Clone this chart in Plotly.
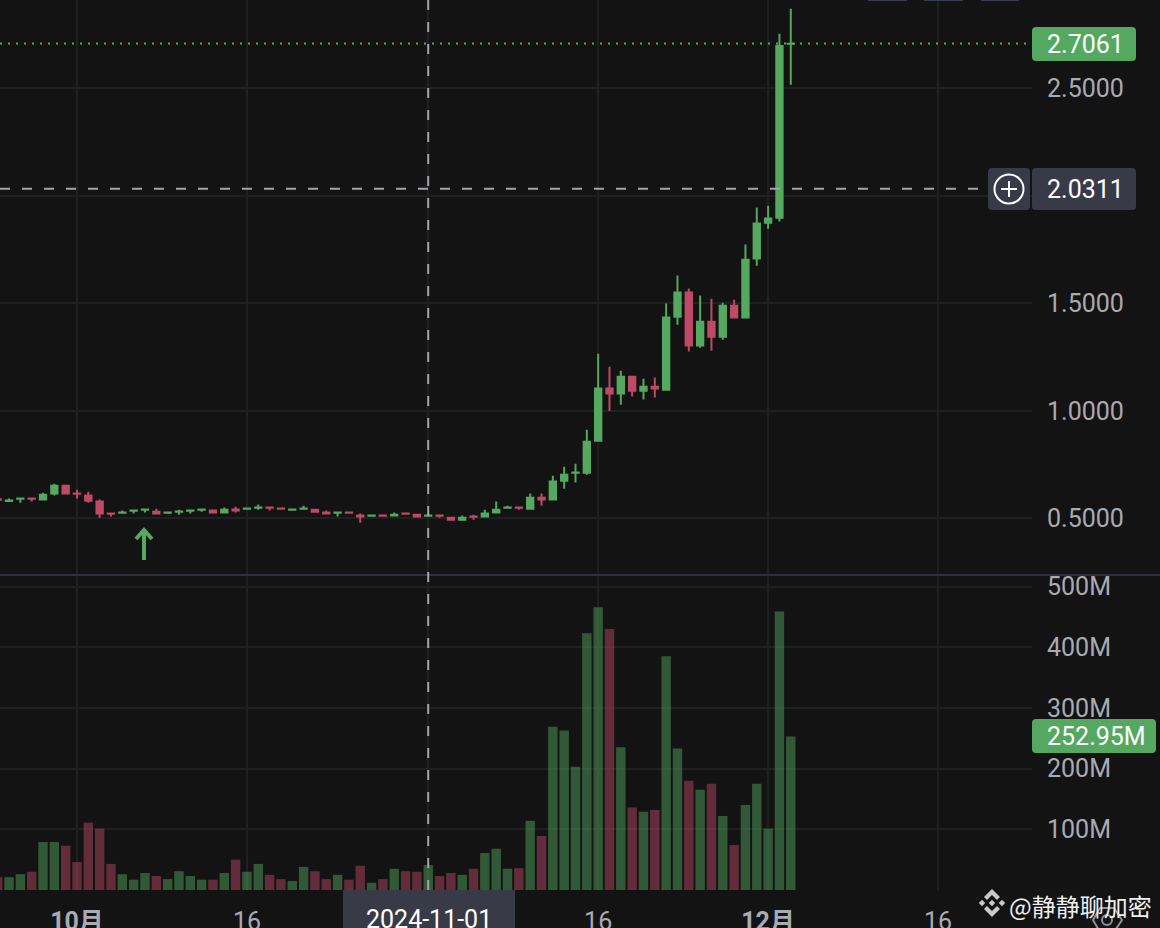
import pandas as pd
import plotly.graph_objects as go
from plotly.subplots import make_subplots

dates = pd.date_range("2024-09-24", "2024-12-03", freq="D")

opens = [.589,.581,.591,.592,.587,.615,.652,.616,.606,.578,.523,.526,.535,.540,.531,.526,.531,.535,.540,.536,
         .527,.541,.545,.549,.550,.546,.540,.545,.540,.527,.526,.527,.513,.512,.513,.513,.522,.517,.512,.513,
         .503,.494,.508,.508,.527,.549,.550,.545,.596,.587,.675,.712,.712,.861,1.103,1.080,1.158,1.093,1.112,1.098,
         1.437,1.549,1.303,1.414,1.344,1.488,1.433,1.707,1.874,1.897,2.705]
highs = [.590,.592,.596,.596,.619,.661,.653,.633,.624,.587,.524,.536,.537,.541,.545,.527,.540,.536,.541,.536,
         .550,.554,.546,.564,.550,.546,.541,.559,.540,.536,.527,.527,.522,.513,.513,.527,.522,.517,.517,.513,
         .503,.513,.517,.540,.578,.559,.550,.615,.615,.698,.740,.754,.912,1.265,1.205,1.186,1.158,1.149,1.154,1.498,
         1.628,1.568,1.535,1.521,1.502,1.516,1.772,1.944,1.953,2.752,2.868]
lows = [.584,.578,.573,.578,.585,.606,.614,.592,.573,.503,.508,.526,.522,.527,.522,.526,.517,.522,.531,.527,
        .527,.527,.545,.540,.536,.545,.540,.545,.531,.522,.508,.526,.480,.512,.512,.513,.521,.508,.508,.503,
        .494,.494,.494,.508,.527,.549,.540,.545,.559,.587,.638,.666,.703,.861,.999,1.028,1.066,1.052,1.061,1.098,
        1.400,1.275,1.293,1.279,1.330,1.433,1.433,1.674,1.846,1.879,2.515]
closes = [.586,.583,.592,.591,.610,.652,.615,.614,.582,.522,.521,.527,.536,.541,.522,.527,.532,.536,.541,.527,
          .540,.536,.546,.550,.549,.545,.541,.546,.531,.522,.527,.526,.508,.513,.512,.517,.521,.508,.513,.512,
          .494,.503,.507,.522,.540,.550,.549,.596,.587,.671,.703,.713,.856,1.103,1.080,1.158,1.093,1.112,1.103,1.433,
          1.549,1.303,1.414,1.344,1.488,1.433,1.702,1.870,1.893,2.695,2.706]
volumes = [21,21,26,30,79,79,73,46,111,101,43,26,17,28,23,18,31,23,17,17,
           28,50,30,43,25,18,15,38,31,18,25,17,40,12,18,35,31,30,41,23,
           28,25,35,61,68,35,36,114,89,269,263,203,423,466,430,235,136,129,132,385,
           233,180,165,175,122,74,140,175,101,459,252.95]

price_ticks = [0.5, 1.0, 1.5, 2.0, 2.5]
price_labels = ["0.5000", "1.0000", "1.5000", "", "2.5000"]
vol_ticks = [100e6, 200e6, 300e6, 400e6, 500e6]
vol_labels = ["100M", "200M", "300M", "400M", "500M"]
date_ticks = ["2024-10-01", "2024-10-16", "2024-11-01", "2024-11-16", "2024-12-01", "2024-12-16"]
date_labels = ["<b>10月</b>", "16", "", "16", "<b>12月</b>", "16"]

last_price = 2.7061
cross_price = 2.0311
cross_date = "2024-11-01"

BG = "#131313"
GRID = "#1f2020"
UP = "#55a860"
DOWN = "#bd4a66"
BADGE = "#383b47"
TICK = "#a9abb3"
FONT = "Roboto, Noto Sans CJK SC, sans-serif"
W, H, PLOT_W = 1160, 928, 1032


def px(x):
    return x / PLOT_W


def py(y):
    return 1 - y / H


def path(points):
    return "M" + " L".join(f"{px(a):.5f},{py(b):.5f}" for a, b in points) + " Z"


def round_box(x0, y0, x1, y1, fill, r=4):
    # rounded box in page pixels, paper coordinates
    p = (f"M{px(x0 + r)},{py(y0)} L{px(x1 - r)},{py(y0)} Q{px(x1)},{py(y0)} {px(x1)},{py(y0 + r)} "
         f"L{px(x1)},{py(y1 - r)} Q{px(x1)},{py(y1)} {px(x1 - r)},{py(y1)} L{px(x0 + r)},{py(y1)} "
         f"Q{px(x0)},{py(y1)} {px(x0)},{py(y1 - r)} L{px(x0)},{py(y0 + r)} Q{px(x0)},{py(y0)} {px(x0 + r)},{py(y0)} Z")
    return dict(type="path", xref="paper", yref="paper", path=p, fillcolor=fill, line_width=0)


def label(x, y, text, color="#ffffff", size=25, font=FONT, anchor="left"):
    return dict(xref="paper", yref="paper", x=px(x), y=py(y), text=text, showarrow=False,
                xanchor=anchor, yanchor="middle", borderpad=0, font=dict(color=color, size=size, family=font))


fig = make_subplots(rows=2, cols=1, shared_xaxes=True, vertical_spacing=0)

fig.add_trace(go.Candlestick(
    x=dates, open=opens, high=highs, low=lows, close=closes, whiskerwidth=0,
    increasing=dict(line=dict(color=UP, width=2), fillcolor=UP),
    decreasing=dict(line=dict(color=DOWN, width=2), fillcolor=DOWN),
), row=1, col=1)

fig.add_trace(go.Bar(
    x=dates, y=[v * 1e6 for v in volumes],
    marker=dict(color=[UP if c >= o else DOWN for o, c in zip(opens, closes)], opacity=0.48, line_width=0),
), row=2, col=1)

shapes = [
    # pane separator
    dict(type="line", xref="paper", yref="paper", x0=0, x1=W / PLOT_W, y0=py(575), y1=py(575),
         line=dict(color="#2e313b", width=2)),
    # last price line
    dict(type="line", xref="paper", yref="y", x0=0, x1=1, y0=last_price, y1=last_price,
         line=dict(color=UP, width=2, dash="2px,6px")),
    # crosshair
    dict(type="line", xref="paper", yref="y", x0=0, x1=px(988), y0=cross_price, y1=cross_price,
         line=dict(color="#a3a5ad", width=2, dash="10px,12px")),
    dict(type="line", xref="x2", yref="paper", x0=cross_date, x1=cross_date, y0=py(890), y1=1,
         line=dict(color="#a3a5ad", width=2, dash="10px,12px")),
    # date and value badges
    dict(type="rect", xref="paper", yref="paper", x0=px(343), x1=px(515), y0=0, y1=py(890),
         fillcolor=BADGE, line_width=0),
    round_box(1032, 27, 1136, 61, UP),
    round_box(1032, 719, 1156, 753, UP),
    round_box(988, 168, 1030, 210, BADGE),
    round_box(1032, 168, 1136, 210, BADGE),
    # plus icon
    dict(type="circle", xref="paper", yref="paper", x0=px(994.5), x1=px(1023.5), y0=py(174.5), y1=py(203.5),
         line=dict(color="#ffffff", width=2)),
    dict(type="line", xref="paper", yref="paper", x0=px(1001), x1=px(1017), y0=py(189), y1=py(189),
         line=dict(color="#ffffff", width=2)),
    dict(type="line", xref="paper", yref="paper", x0=px(1009), x1=px(1009), y0=py(181), y1=py(197),
         line=dict(color="#ffffff", width=2)),
    # signal arrow
    dict(type="path", xref="paper", yref="paper", line=dict(color=UP, width=4),
         path=f"M{px(144)},{py(560)} L{px(144)},{py(531)} M{px(136)},{py(539)} L{px(144)},{py(530)} L{px(152)},{py(539)}"),
    # gear icon, mostly under the watermark
    dict(type="path", xref="paper", yref="paper", line=dict(color="#8d9098", width=2),
         path=path([(1100, 908), (1114, 908), (1122, 920), (1114, 932), (1100, 932), (1093, 920)])),
    dict(type="circle", xref="paper", yref="paper", x0=px(1102), x1=px(1112), y0=py(915), y1=py(925),
         line=dict(color="#8d9098", width=2)),
]

# toolbar stubs cut off at the top edge
for x0, x1 in [(868, 907), (924, 963), (981, 1019)]:
    shapes.append(dict(type="rect", xref="paper", yref="paper", x0=px(x0), x1=px(x1), y0=py(1), y1=1,
                       fillcolor="#3a3d4d", line_width=0))

# watermark logo
LOGO_X, LOGO_Y = 992, 903
for cx, cy in [(0, 0), (-10, 0), (10, 0)]:
    shapes.append(dict(type="path", xref="paper", yref="paper", fillcolor="#c9c9c9", line_width=0,
                       path=path([(LOGO_X + cx, LOGO_Y + cy - 3.2), (LOGO_X + cx + 3.2, LOGO_Y + cy),
                                  (LOGO_X + cx, LOGO_Y + cy + 3.2), (LOGO_X + cx - 3.2, LOGO_Y + cy)])))
for s in (1, -1):
    shapes.append(dict(type="path", xref="paper", yref="paper", fillcolor="#c9c9c9", line_width=0,
                       path=path([(LOGO_X, LOGO_Y - s * 14), (LOGO_X + 8, LOGO_Y - s * 6), (LOGO_X + 5, LOGO_Y - s * 3),
                                  (LOGO_X, LOGO_Y - s * 8), (LOGO_X - 5, LOGO_Y - s * 3), (LOGO_X - 8, LOGO_Y - s * 6)])))

annotations = [
    label(1046, 44, f"{last_price:.4f}"),
    label(1046, 189, f"{cross_price:.4f}"),
    label(1046, 736, "252.95M"),
    label(429, 919, cross_date, anchor="center"),
    label(1008, 905, "@静静聊加密", color="#f0f0f0", size=24, font="Noto Sans CJK SC"),
]

fig.update_layout(
    width=W, height=H, margin=dict(l=0, r=W - PLOT_W, t=0, b=0, autoexpand=False),
    paper_bgcolor=BG, plot_bgcolor=BG, showlegend=False,
    bargap=0.17, boxgap=0.2,
    font=dict(family=FONT, color=TICK, size=24),
    shapes=shapes, annotations=annotations,
)

fig.update_xaxes(
    type="date", range=["2024-09-24 04:54", "2024-12-24 07:00"], automargin=False,
    tickmode="array", tickvals=date_ticks, ticktext=date_labels,
    showgrid=True, gridcolor=GRID, gridwidth=2, zeroline=False, showline=False,
    ticks="outside", ticklen=9, tickcolor=BG, rangeslider_visible=False,
)
fig.update_xaxes(showticklabels=False, ticks="", row=1, col=1)
fig.update_xaxes(tickfont=dict(size=25, color=TICK, family=FONT), row=2, col=1)

fig.update_yaxes(
    side="right", automargin=False, showgrid=True, gridcolor=GRID, gridwidth=2, zeroline=False, showline=False,
    ticks="outside", ticklen=9, tickwidth=2, tickcolor=BG, tickfont=dict(size=25, color=TICK, family=FONT),
    tickmode="array",
)
fig.update_yaxes(domain=[py(575), 1], range=[0.2367, 2.9088], tickvals=price_ticks, ticktext=price_labels, row=1, col=1)
fig.update_yaxes(domain=[py(890), py(575)], range=[0, 519e6], tickvals=vol_ticks, ticktext=vol_labels, row=2, col=1)

fig.write_html("out.html", config=dict(displayModeBar=False),
               post_script="document.body.style.margin='0';document.body.style.overflow='hidden';")
